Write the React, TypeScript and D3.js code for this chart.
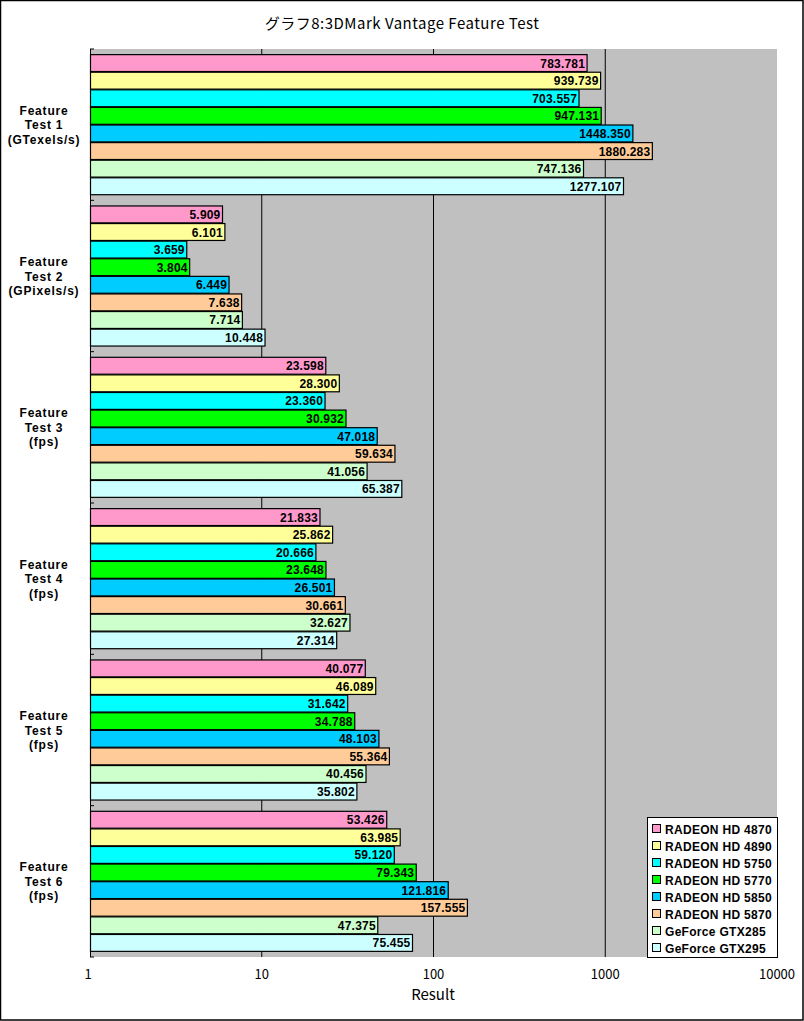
import React from "react";
import * as d3 from "d3";

const categories = [
  ["Feature", "Test 1", "(GTexels/s)"],
  ["Feature", "Test 2", "(GPixels/s)"],
  ["Feature", "Test 3", "(fps)"],
  ["Feature", "Test 4", "(fps)"],
  ["Feature", "Test 5", "(fps)"],
  ["Feature", "Test 6", "(fps)"],
];
const seriesNames = [
  "RADEON HD 4870",
  "RADEON HD 4890",
  "RADEON HD 5750",
  "RADEON HD 5770",
  "RADEON HD 5850",
  "RADEON HD 5870",
  "GeForce GTX285",
  "GeForce GTX295",
];
const seriesColors = ["#FF99CC", "#FFFF99", "#00FFFF", "#00FF00", "#00CCFF", "#FFCC99", "#CCFFCC", "#CCFFFF"];
const hd4870 = [783.781, 5.909, 23.598, 21.833, 40.077, 53.426];
const hd4890 = [939.739, 6.101, 28.3, 25.862, 46.089, 63.985];
const hd5750 = [703.557, 3.659, 23.36, 20.666, 31.642, 59.12];
const hd5770 = [947.131, 3.804, 30.932, 23.648, 34.788, 79.343];
const hd5850 = [1448.35, 6.449, 47.018, 26.501, 48.103, 121.816];
const hd5870 = [1880.283, 7.638, 59.634, 30.661, 55.364, 157.555];
const gtx285 = [747.136, 7.714, 41.056, 32.627, 40.456, 47.375];
const gtx295 = [1277.107, 10.448, 65.387, 27.314, 35.802, 75.455];
const seriesValues = [hd4870, hd4890, hd5750, hd5770, hd5850, hd5870, gtx285, gtx295];
const xTicks = [1, 10, 100, 1000, 10000];
const title = "グラフ8:3DMark Vantage Feature Test";
const xTitle = "Result";

const W = 804;
const H = 1021;
const plot = { left: 90, right: 777, top: 49, bottom: 957 };
const gothic = "'Noto Sans CJK JP', 'DejaVu Sans', sans-serif";
const sans = "'Liberation Sans', Arial, sans-serif";

export default function App() {
  const x = d3.scaleLog().domain([1, 10000]).range([plot.left, plot.right]);
  const y0 = d3
    .scaleBand<number>()
    .domain(d3.range(categories.length))
    .range([plot.top, plot.bottom]);
  const y1 = d3
    .scaleBand<number>()
    .domain(d3.range(seriesNames.length))
    .range([0, y0.bandwidth()])
    .paddingOuter(0.3);
  const pitch = y1.step();
  const barH = pitch - 0.7;

  return (
    <svg
      width={W}
      height={H}
      style={{ position: "absolute", left: 0, top: 0, display: "block", background: "#fff" }}
    >
      <rect x={0.5} y={0.5} width={W - 1.5} height={H - 1.5} fill="#fff" stroke="#000" strokeWidth={1.5} />
      <text x={402} y={29} textAnchor="middle" fontFamily={gothic} fontSize={15} letterSpacing={0.5} fill="#000">
        {title}
      </text>
      <rect x={plot.left} y={plot.top} width={plot.right - plot.left} height={plot.bottom - plot.top} fill="#C0C0C0" />
      {xTicks.slice(1, -1).map((t) => (
        <line key={t} x1={x(t)} x2={x(t)} y1={plot.top} y2={plot.bottom} stroke="#000" strokeWidth={1} />
      ))}
      <line x1={plot.left + 0.5} x2={plot.left + 0.5} y1={plot.top} y2={plot.bottom} stroke="#000" strokeWidth={1} />
      {d3.range(categories.length + 1).map((i) => {
        const yy = plot.top + i * y0.step();
        return <line key={i} x1={plot.left} x2={plot.left + 4} y1={yy} y2={yy} stroke="#000" strokeWidth={1} />;
      })}
      {categories.map((cat, ci) => {
        const gy = y0(ci)!;
        const cy = gy + y0.bandwidth() / 2;
        return (
          <g key={ci}>
            {cat.map((line, li) => (
              <text
                key={li}
                x={44}
                y={cy - 14.5 + li * 14.5 + 4.5}
                textAnchor="middle"
                fontFamily={sans}
                fontWeight="bold"
                fontSize={12}
                letterSpacing={0.8}
                fill="#000"
              >
                {line}
              </text>
            ))}
            {seriesValues.map((vals, si) => {
              const v = vals[ci];
              const by = gy + y1(si)!;
              const xe = x(v);
              return (
                <g key={si}>
                  <rect
                    x={plot.left + 0.5}
                    y={by + 0.35}
                    width={xe - plot.left - 0.5}
                    height={barH}
                    fill={seriesColors[si]}
                    stroke="#000"
                    strokeWidth={1.2}
                  />
                  <text
                    x={xe - 2}
                    y={by + pitch / 2 + 4.5}
                    textAnchor="end"
                    fontFamily={sans}
                    fontWeight="bold"
                    fontSize={12}
                    letterSpacing={0.2}
                    fill="#000"
                  >
                    {v.toFixed(3)}
                  </text>
                </g>
              );
            })}
          </g>
        );
      })}
      {xTicks.map((t) => (
        <text key={t} x={x(t) - (t === 1 ? 2 : 0)} y={979} textAnchor="middle" fontFamily={gothic} fontSize={13} fill="#000">
          {t}
        </text>
      ))}
      <text x={433} y={1000} textAnchor="middle" fontFamily={gothic} fontSize={15} fill="#000">
        {xTitle}
      </text>
      <g>
        <rect x={647.5} y={817.5} width={130} height={140} fill="#fff" stroke="#000" strokeWidth={1} />
        {seriesNames.map((name, i) => {
          const ly = 829 + i * 17;
          return (
            <g key={name}>
              <rect x={652.5} y={ly - 4.5} width={8} height={8} fill={seriesColors[i]} stroke="#000" strokeWidth={1} />
              <text x={665} y={ly + 4.5} fontFamily={sans} fontWeight="bold" fontSize={12} fill="#000" letterSpacing={0.3}>
                {name}
              </text>
            </g>
          );
        })}
      </g>
    </svg>
  );
}
